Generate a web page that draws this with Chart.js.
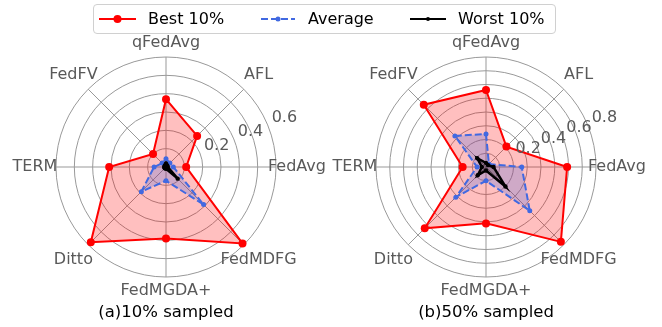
<!DOCTYPE html>
<html>
<head>
<meta charset="utf-8">
<script src="https://cdn.jsdelivr.net/npm/chart.js@4"></script>
<style>
  body { margin: 0; background: #fff; font-family: "DejaVu Sans", sans-serif; }
  #wrap { position: relative; width: 662px; height: 327px; overflow: hidden; }
  #wrap canvas { position: absolute; top: 0; }
  #legend { position: absolute; left: 93px; top: 4px; width: 463px; height: 30px; border: 1px solid #d0d0d0;
            border-radius: 4px; box-sizing: border-box; background: #fff; z-index: 2; }
  .item { position: absolute; top: 0; height: 28px; line-height: 28px; font-size: 16px; color: #000; white-space: nowrap; }
  .item svg { position: absolute; top: 9px; }
</style>
</head>
<body>
<div id="wrap">
  <canvas id="chartA" width="331" height="327" style="left:0"></canvas>
  <canvas id="chartB" width="331" height="327" style="left:331px"></canvas>
  <div id="legend">
    <div class="item" style="left:5px"><svg width="37" height="10"><line x1="0" y1="5" x2="37" y2="5" stroke="#ff0000" stroke-width="2"/><circle cx="18.5" cy="5" r="4" fill="#ff0000"/></svg></div>
    <div class="item" style="left:54px">Best 10%</div>
    <div class="item" style="left:167px"><svg width="34" height="10"><line x1="0" y1="5" x2="34" y2="5" stroke="#4169e1" stroke-width="2" stroke-dasharray="7,3"/><circle cx="17" cy="5" r="2.5" fill="#4169e1"/></svg></div>
    <div class="item" style="left:214px">Average</div>
    <div class="item" style="left:316px"><svg width="36" height="10"><line x1="0" y1="5" x2="36" y2="5" stroke="#000" stroke-width="2"/><circle cx="18" cy="5" r="2" fill="#000"/></svg></div>
    <div class="item" style="left:364px">Worst 10%</div>
  </div>
</div>
<script>
// categories, clockwise from the top
var labels = ['qFedAvg', 'AFL', 'FedAvg', 'FedMDFG', 'FedMGDA+', 'Ditto', 'TERM', 'FedFV'];

// (a) 10% sampled
var best10  = [0.37, 0.24, 0.11, 0.59, 0.39, 0.58, 0.31, 0.10];
var avg10   = [0.045, 0.03, 0.04, 0.29, 0.075, 0.19, 0.065, 0.03];
var worst10 = [0.02, 0.01, 0.01, 0.09, 0.01, 0.01, 0.01, 0.01];
var ticks10 = [0.2, 0.4, 0.6];

// (b) 50% sampled
var best50  = [0.56, 0.21, 0.59, 0.77, 0.41, 0.63, 0.17, 0.64];
var avg50   = [0.24, 0.03, 0.26, 0.45, 0.10, 0.31, 0.065, 0.32];
var worst50 = [0.03, 0.02, 0.055, 0.20, 0.025, 0.085, 0.03, 0.09];
var ticks50 = [0.2, 0.4, 0.6, 0.8];

var txtGray = '#595959';
var gridGray = '#999999';

// labels drawn centred around the circle, radial ticks at 22.5 degrees (like matplotlib)
var polarText = {
  id: 'polarText',
  afterDraw: function (chart, args, opts) {
    var s = chart.scales.r;
    var ctx = chart.ctx;
    ctx.save();
    ctx.font = '16px "DejaVu Sans"';
    ctx.fillStyle = txtGray;
    ctx.textAlign = 'center';
    ctx.textBaseline = 'middle';
    chart.data.labels.forEach(function (lab, i) {
      var a = s.getIndexAngle(i);
      var vertical = Math.abs(Math.cos(a)) > 0.99;
      var p = s.getPointPosition(i, s.drawingArea + (vertical ? 14 : 21));
      ctx.fillText(lab, p.x, p.y);
    });
    ctx.textAlign = 'left';
    ctx.textBaseline = 'alphabetic';
    var ang = -Math.PI / 8;
    opts.ticks.forEach(function (v) {
      var d = s.getDistanceFromCenterForValue(v);
      ctx.fillText(v.toFixed(1), s.xCenter + Math.cos(ang) * d + 4, s.yCenter + Math.sin(ang) * d - 3);
    });
    ctx.restore();
  }
};

function makeRadar(id, best, avg, worst, maxR, tickList, title, padL, padR) {
  return new Chart(document.getElementById(id), {
    type: 'radar',
    data: {
      labels: labels,
      datasets: [{
        label: 'Best 10%',
        data: best,
        borderColor: '#ff0000',
        backgroundColor: 'rgba(255,0,0,0.25)',
        pointBackgroundColor: '#ff0000',
        pointBorderWidth: 0,
        pointRadius: 4,
        borderWidth: 2,
        fill: true,
        order: 3
      }, {
        label: 'Average',
        data: avg,
        borderColor: '#4169e1',
        backgroundColor: 'rgba(65,105,225,0.25)',
        pointBackgroundColor: '#4169e1',
        pointBorderWidth: 0,
        pointRadius: 2.5,
        borderWidth: 2,
        borderDash: [7, 3],
        fill: true,
        order: 2
      }, {
        label: 'Worst 10%',
        data: worst,
        borderColor: '#000000',
        backgroundColor: 'rgba(0,0,0,0.25)',
        pointBackgroundColor: '#000000',
        pointBorderWidth: 0,
        pointRadius: 2.2,
        borderWidth: 2.5,
        fill: true,
        order: 1
      }]
    },
    options: {
      responsive: false,
      animation: false,
      devicePixelRatio: 1,
      layout: { padding: { left: padL, right: padR, top: 57, bottom: 0 } },
      elements: { line: { tension: 0 } },
      scales: {
        r: {
          min: 0,
          max: maxR,
          ticks: { display: false, stepSize: 0.1 },
          grid: { color: gridGray, lineWidth: 1, circular: true },
          angleLines: { color: gridGray, lineWidth: 1 },
          pointLabels: { display: false }
        }
      },
      plugins: {
        legend: { display: false },
        tooltip: { enabled: false },
        title: {
          display: true,
          position: 'bottom',
          text: title,
          color: '#000',
          font: { family: 'DejaVu Sans', size: 16.5, weight: 'normal' },
          padding: { top: 26, bottom: 4 }
        },
        polarText: { ticks: tickList }
      }
    },
    plugins: [polarText]
  });
}

makeRadar('chartA', best10, avg10, worst10, 0.6, ticks10, '(a)10% sampled', 56, 55);
makeRadar('chartB', best50, avg50, worst50, 0.8, ticks50, '(b)50% sampled', 45, 66);
</script>
</body>
</html>
